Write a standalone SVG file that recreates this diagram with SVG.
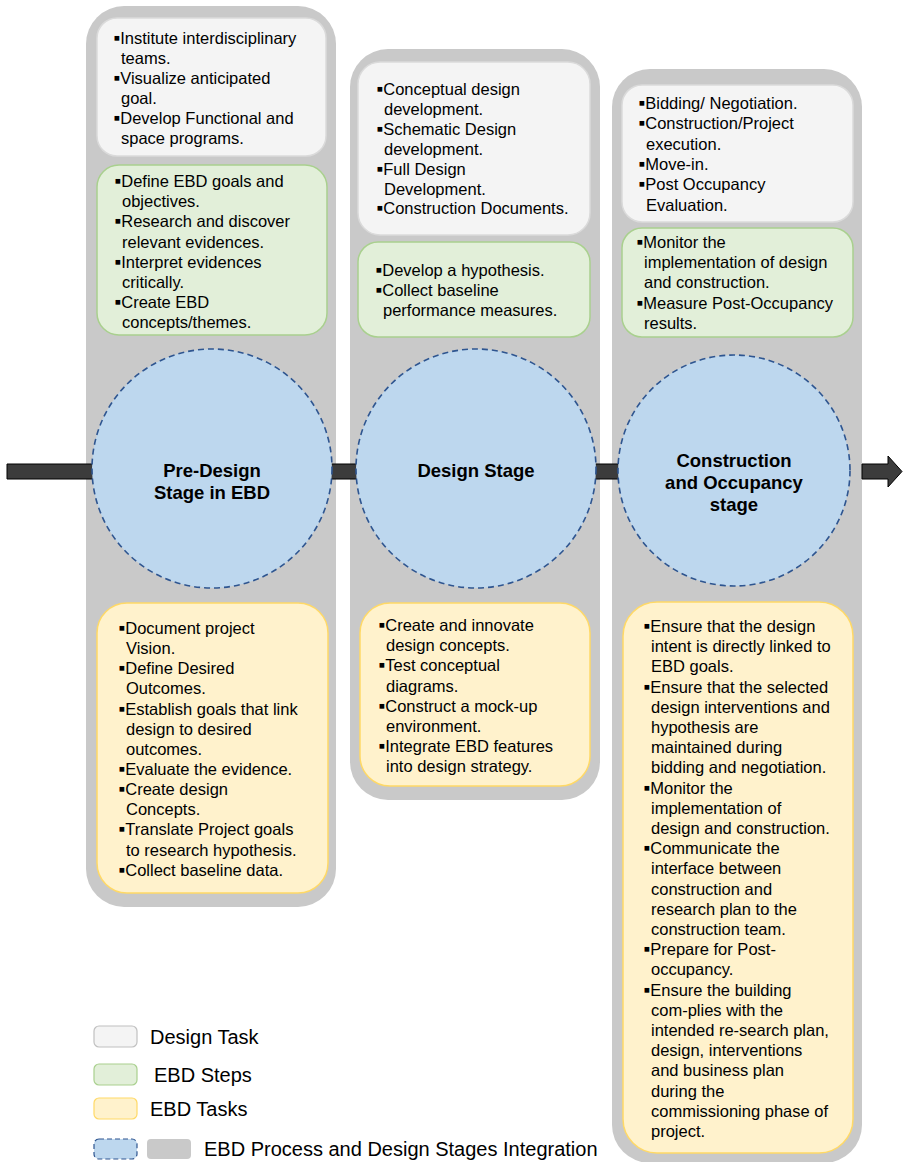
<svg xmlns="http://www.w3.org/2000/svg" width="903" height="1162" viewBox="0 0 903 1162">
<style>
.col{fill:#c9c9c9}
.wt{fill:#f4f4f4;stroke:#dadada;stroke-width:1.5}
.gr{fill:#e2efd9;stroke:#a9d08e;stroke-width:1.5}
.yl{fill:#fff2cc;stroke:#ffd966;stroke-width:1.5}
.circ{fill:#bdd7ee;stroke:#2e5590;stroke-width:1.6;stroke-dasharray:6 4}
.t{font-family:"Liberation Sans",Arial,"DejaVu Sans",sans-serif;font-size:16.5px;fill:#000}
.b{font-size:19px}
.h{font-family:"Liberation Sans",Arial,sans-serif;font-size:18.5px;font-weight:bold;text-anchor:middle;fill:#000}
.lg{font-family:"Liberation Sans",Arial,sans-serif;font-size:20px;fill:#000}
.arr{fill:#3c3c3c;stroke:#000;stroke-width:1}
</style>
<rect width="903" height="1162" fill="#ffffff"/>
<g id="stage-columns">
<rect class="col" x="86" y="6" width="250" height="901" rx="38"/>
<rect class="col" x="350" y="49" width="250" height="751" rx="38"/>
<rect class="col" x="612" y="69" width="250" height="1094" rx="38"/>
</g>
<g id="connectors">
<path class="arr" d="M7,464 H740 V479 H7 Z"/>
<path class="arr" d="M862,464 H888 V456 L902,471.5 L888,487 V479 H862 Z"/>
</g>
<g id="predesign-circle">
<ellipse class="circ" cx="212" cy="468.5" rx="120" ry="119.5"/>
<text class="h"><tspan x="212" y="477">Pre-Design</tspan><tspan x="212" y="499">Stage in EBD</tspan></text>
</g>
<g id="design-circle">
<ellipse class="circ" cx="476" cy="468.5" rx="120" ry="119.5"/>
<text class="h" x="476" y="477">Design Stage</text>
</g>
<g id="construction-circle">
<ellipse class="circ" cx="734" cy="470.5" rx="116" ry="115.5"/>
<text class="h"><tspan x="734" y="467">Construction</tspan><tspan x="734" y="489">and Occupancy</tspan><tspan x="734" y="511">stage</tspan></text>
</g>
<g id="predesign-design-task">
<rect class="wt" x="97" y="18" width="229" height="138" rx="20"/>
<text class="t">
<tspan class="b" x="113.5" y="43.5">▪</tspan><tspan>Institute interdisciplinary</tspan>
<tspan x="121" y="63.6">teams.</tspan>
<tspan class="b" x="113.5" y="83.7">▪</tspan><tspan>Visualize anticipated</tspan>
<tspan x="121" y="103.8">goal.</tspan>
<tspan class="b" x="113.5" y="123.9">▪</tspan><tspan>Develop Functional and</tspan>
<tspan x="121" y="144">space programs.</tspan>
</text>
</g>
<g id="predesign-ebd-steps">
<rect class="gr" x="97" y="165" width="230" height="170" rx="22"/>
<text class="t">
<tspan class="b" x="114.5" y="187">▪</tspan><tspan>Define EBD goals and</tspan>
<tspan x="122" y="207.2">objectives.</tspan>
<tspan class="b" x="114.5" y="227.3">▪</tspan><tspan>Research and discover</tspan>
<tspan x="122" y="247.5">relevant evidences.</tspan>
<tspan class="b" x="114.5" y="267.6">▪</tspan><tspan>Interpret evidences</tspan>
<tspan x="122" y="287.8">critically.</tspan>
<tspan class="b" x="114.5" y="307.9">▪</tspan><tspan>Create EBD</tspan>
<tspan x="122" y="328.1">concepts/themes.</tspan>
</text>
</g>
<g id="predesign-ebd-tasks">
<rect class="yl" x="97" y="603" width="231" height="290" rx="30"/>
<text class="t">
<tspan class="b" x="118.5" y="634">▪</tspan><tspan>Document project</tspan>
<tspan x="126" y="654.1">Vision.</tspan>
<tspan class="b" x="118.5" y="674.3">▪</tspan><tspan>Define Desired</tspan>
<tspan x="126" y="694.4">Outcomes.</tspan>
<tspan class="b" x="118.5" y="714.6">▪</tspan><tspan>Establish goals that link</tspan>
<tspan x="126" y="734.7">design to desired</tspan>
<tspan x="126" y="754.8">outcomes.</tspan>
<tspan class="b" x="118.5" y="775">▪</tspan><tspan>Evaluate the evidence.</tspan>
<tspan class="b" x="118.5" y="795.1">▪</tspan><tspan>Create design</tspan>
<tspan x="126" y="815.3">Concepts.</tspan>
<tspan class="b" x="118.5" y="835.4">▪</tspan><tspan>Translate Project goals</tspan>
<tspan x="126" y="855.5">to research hypothesis.</tspan>
<tspan class="b" x="118.5" y="875.7">▪</tspan><tspan>Collect baseline data.</tspan>
</text>
</g>
<g id="design-design-task">
<rect class="wt" x="358" y="62" width="232" height="173" rx="22"/>
<text class="t">
<tspan class="b" x="376.5" y="95">▪</tspan><tspan>Conceptual design</tspan>
<tspan x="384" y="114.9">development.</tspan>
<tspan class="b" x="376.5" y="134.8">▪</tspan><tspan>Schematic Design</tspan>
<tspan x="384" y="154.7">development.</tspan>
<tspan class="b" x="376.5" y="174.6">▪</tspan><tspan>Full Design</tspan>
<tspan x="384" y="194.5">Development.</tspan>
<tspan class="b" x="376.5" y="214.4">▪</tspan><tspan>Construction Documents.</tspan>
</text>
</g>
<g id="design-ebd-steps">
<rect class="gr" x="358" y="242" width="232" height="95" rx="20"/>
<text class="t">
<tspan class="b" x="375.5" y="276">▪</tspan><tspan>Develop a hypothesis.</tspan>
<tspan class="b" x="375.5" y="296.2">▪</tspan><tspan>Collect baseline</tspan>
<tspan x="383" y="316.4">performance measures.</tspan>
</text>
</g>
<g id="design-ebd-tasks">
<rect class="yl" x="360" y="603" width="230" height="183" rx="30"/>
<text class="t">
<tspan class="b" x="378.5" y="631">▪</tspan><tspan>Create and innovate</tspan>
<tspan x="386" y="651.2">design concepts.</tspan>
<tspan class="b" x="378.5" y="671.4">▪</tspan><tspan>Test conceptual</tspan>
<tspan x="386" y="691.6">diagrams.</tspan>
<tspan class="b" x="378.5" y="711.8">▪</tspan><tspan>Construct a mock-up</tspan>
<tspan x="386" y="732">environment.</tspan>
<tspan class="b" x="378.5" y="752.2">▪</tspan><tspan>Integrate EBD features</tspan>
<tspan x="386" y="772.4">into design strategy.</tspan>
</text>
</g>
<g id="construction-design-task">
<rect class="wt" x="622" y="85" width="231" height="137" rx="20"/>
<text class="t">
<tspan class="b" x="638.5" y="109">▪</tspan><tspan>Bidding/ Negotiation.</tspan>
<tspan class="b" x="638.5" y="129.3">▪</tspan><tspan>Construction/Project</tspan>
<tspan x="646" y="149.6">execution.</tspan>
<tspan class="b" x="638.5" y="169.9">▪</tspan><tspan>Move-in.</tspan>
<tspan class="b" x="638.5" y="190.2">▪</tspan><tspan>Post Occupancy</tspan>
<tspan x="646" y="210.5">Evaluation.</tspan>
</text>
</g>
<g id="construction-ebd-steps">
<rect class="gr" x="622" y="228" width="231" height="109" rx="20"/>
<text class="t">
<tspan class="b" x="636.5" y="248">▪</tspan><tspan>Monitor the</tspan>
<tspan x="644" y="268.2">implementation of design</tspan>
<tspan x="644" y="288.3">and construction.</tspan>
<tspan class="b" x="636.5" y="308.5">▪</tspan><tspan>Measure Post-Occupancy</tspan>
<tspan x="644" y="328.6">results.</tspan>
</text>
</g>
<g id="construction-ebd-tasks">
<rect class="yl" x="623" y="602" width="230" height="551" rx="34"/>
<text class="t">
<tspan class="b" x="643.5" y="632">▪</tspan><tspan>Ensure that the design</tspan>
<tspan x="651" y="652.2">intent is directly linked to</tspan>
<tspan x="651" y="672.4">EBD goals.</tspan>
<tspan class="b" x="643.5" y="692.6">▪</tspan><tspan>Ensure that the selected</tspan>
<tspan x="651" y="712.8">design interventions and</tspan>
<tspan x="651" y="733">hypothesis are</tspan>
<tspan x="651" y="753.2">maintained during</tspan>
<tspan x="651" y="773.4">bidding and negotiation.</tspan>
<tspan class="b" x="643.5" y="793.6">▪</tspan><tspan>Monitor the</tspan>
<tspan x="651" y="813.8">implementation of</tspan>
<tspan x="651" y="834">design and construction.</tspan>
<tspan class="b" x="643.5" y="854.2">▪</tspan><tspan>Communicate the</tspan>
<tspan x="651" y="874.4">interface between</tspan>
<tspan x="651" y="894.6">construction and</tspan>
<tspan x="651" y="914.8">research plan to the</tspan>
<tspan x="651" y="935">construction team.</tspan>
<tspan class="b" x="643.5" y="955.2">▪</tspan><tspan>Prepare for Post-</tspan>
<tspan x="651" y="975.4">occupancy.</tspan>
<tspan class="b" x="643.5" y="995.6">▪</tspan><tspan>Ensure the building</tspan>
<tspan x="651" y="1015.8">com-plies with the</tspan>
<tspan x="651" y="1036">intended re-search plan,</tspan>
<tspan x="651" y="1056.2">design, interventions</tspan>
<tspan x="651" y="1076.4">and business plan</tspan>
<tspan x="651" y="1096.6">during the</tspan>
<tspan x="651" y="1116.8">commissioning phase of</tspan>
<tspan x="651" y="1137">project.</tspan>
</text>
</g>
<g id="legend">
<rect x="94" y="1026" width="43" height="21" rx="5" fill="#f4f4f4" stroke="#c0c0c0" stroke-width="1.2"/>
<text class="lg" x="150" y="1044">Design Task</text>
<rect x="94" y="1064" width="43" height="21" rx="5" fill="#e2efd9" stroke="#a9d08e" stroke-width="1.2"/>
<text class="lg" x="154" y="1082">EBD Steps</text>
<rect x="94" y="1098" width="43" height="21" rx="5" fill="#fff2cc" stroke="#ffd966" stroke-width="1.2"/>
<text class="lg" x="150" y="1116">EBD Tasks</text>
<rect x="94" y="1139" width="43" height="20" rx="5" fill="#bdd7ee" stroke="#2e5590" stroke-width="1.2" stroke-dasharray="5 3"/>
<rect x="147" y="1139" width="44" height="20" rx="4" fill="#c9c9c9"/>
<text class="lg" x="204" y="1156">EBD Process and Design Stages Integration</text>
</g>
</svg>
